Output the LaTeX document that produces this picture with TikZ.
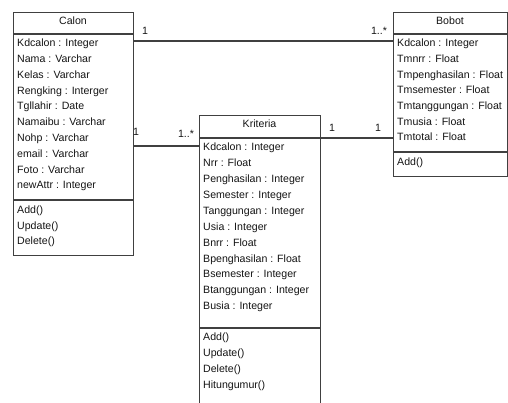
\documentclass[tikz,border=0pt]{standalone}
\usepackage{fontspec}
\setmainfont{Liberation Sans}
\begin{document}
\begin{tikzpicture}[x=1pt,y=-1pt,
  line/.style={draw=black!75, line width=1.3pt},
  classbox/.style={line, rectangle, anchor=north west, inner sep=0pt},
  member/.style={anchor=west, inner sep=0pt, font=\fontsize{10.6}{12}\selectfont,
    text=black!92, text height=7.5pt, text depth=2pt},
  title/.style={member, anchor=center},
  mult/.style={member, anchor=center}]
\useasboundingbox (0,0) rectangle (508,403);
\clip (0,0) rectangle (508,403);

% class boxes
\node[classbox, minimum width=120pt, minimum height=243pt] (calon) at (13,12) {};
\node[classbox, minimum width=114pt, minimum height=164pt] (bobot) at (393,12) {};
\node[classbox, minimum width=121pt, minimum height=300pt] (kriteria) at (199,115) {};

% compartment separators
\draw[line] (13,34) -- (133,34);
\draw[line] (13,200) -- (133,200);
\draw[line] (393,34) -- (507,34);
\draw[line] (393,152) -- (507,152);
\draw[line] (199,138) -- (320,138);
\draw[line] (199,328) -- (320,328);

% class names
\node[title] (calon-name) at (73,22) {Calon};
\node[title] (bobot-name) at (450,22) {Bobot};
\node[title] (kriteria-name) at (259.5,125) {Kriteria};

% Calon members
\foreach \t [count=\i] in {Kdcalon : Integer, Nama : Varchar, Kelas : Varchar,
    Rengking : Interger, Tgllahir : Date, Namaibu : Varchar, Nohp : Varchar,
    email : Varchar, Foto : Varchar, newAttr : Integer}
  \node[member] (calon-a\i) at (17,{44+15.8*(\i-1)}) {\t};
\foreach \t [count=\i] in {Add(), Update(), Delete()}
  \node[member] (calon-m\i) at (17,{211+15.6*(\i-1)}) {\t};

% Bobot members
\foreach \t [count=\i] in {Kdcalon : Integer, Tmnrr : Float, Tmpenghasilan : Float,
    Tmsemester : Float, Tmtanggungan : Float, Tmusia : Float, Tmtotal : Float}
  \node[member] (bobot-a\i) at (397,{44+15.7*(\i-1)}) {\t};
\node[member] (bobot-m1) at (397,163) {Add()};

% Kriteria members
\foreach \t [count=\i] in {Kdcalon : Integer, Nrr : Float, Penghasilan : Integer,
    Semester : Integer, Tanggungan : Integer, Usia : Integer, Bnrr : Float,
    Bpenghasilan : Float, Bsemester : Integer, Btanggungan : Integer, Busia : Integer}
  \node[member] (kriteria-a\i) at (203,{148+15.9*(\i-1)}) {\t};
\foreach \t [count=\i] in {Add(), Update(), Delete(), Hitungumur()}
  \node[member] (kriteria-m\i) at (203,{338+16*(\i-1)}) {\t};

% associations
\coordinate (cb) at (0,41);
\coordinate (ck) at (0,146);
\coordinate (kb) at (0,138);
\draw[line] (calon.east |- cb) -- (bobot.west |- cb);
\draw[line] (calon.east |- ck) -- (kriteria.west |- ck);
\draw[line] (kriteria.east |- kb) -- (bobot.west |- kb);

% multiplicities
\node[mult] (m-cb1) at (145,32) {1};
\node[mult] (m-cb2) at (379,32) {1..*};
\node[mult] (m-ck1) at (136,133) {1};
\node[mult] (m-ck2) at (186,135) {1..*};
\node[mult] (m-kb1) at (332,129) {1};
\node[mult] (m-kb2) at (378,129) {1};
\end{tikzpicture}
\end{document}
